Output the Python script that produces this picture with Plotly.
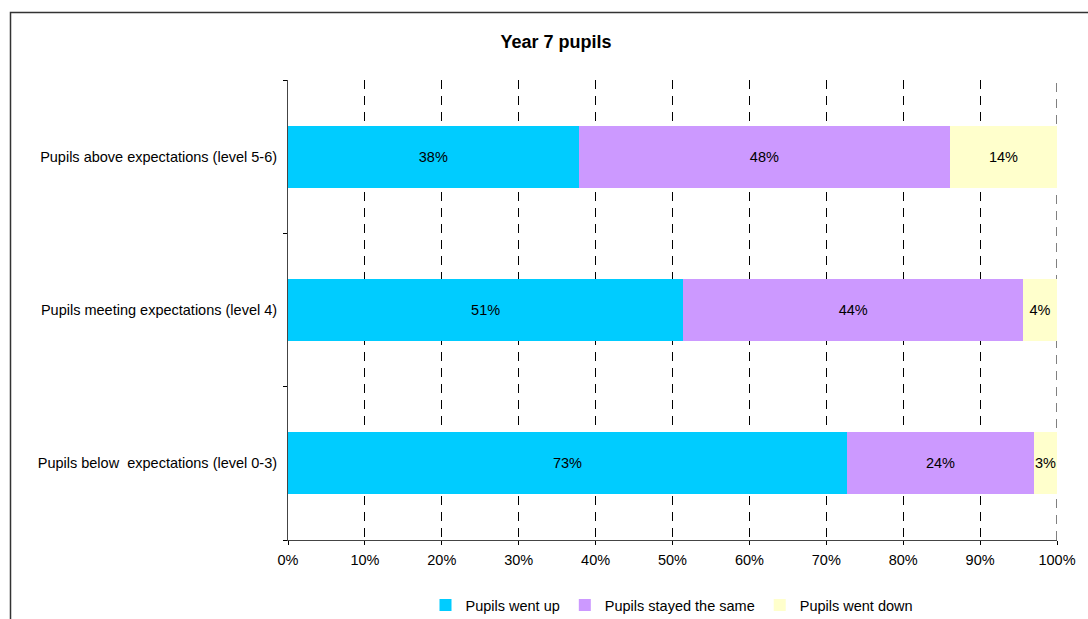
import plotly.graph_objects as go

# ---------------------------------------------------------------------------
# Data
# ---------------------------------------------------------------------------
categories = [
    "Pupils above expectations (level 5-6)",
    "Pupils meeting expectations (level 4)",
    "Pupils below  expectations (level 0-3)",
]
went_up = [37.8, 51.4, 72.7]
stayed_same = [48.3, 44.2, 24.3]
went_down = [13.9, 4.4, 3.0]

series_names = ["Pupils went up", "Pupils stayed the same", "Pupils went down"]
series_values = [went_up, stayed_same, went_down]
series_colors = ["#00CCFF", "#CC99FF", "#FFFFCC"]

x_ticks = [0, 10, 20, 30, 40, 50, 60, 70, 80, 90, 100]

W, H = 1088, 619
L, R, T, B = 288, 31, 80, 79
PW, PH = W - L - R, H - T - B

FONT = "Liberation Sans, Arial, sans-serif"
FS = 14.5


def px_x(x):
    return (x - L) / PW


def px_y(y):
    return (H - B - y) / PH


fig = go.Figure()
for name, vals, color in zip(series_names, series_values, series_colors):
    fig.add_trace(go.Bar(
        y=categories,
        x=vals,
        name=name,
        orientation="h",
        marker=dict(color=color, line=dict(width=0)),
        text=[f"{v:.0f}%" for v in vals],
        textposition="inside",
        insidetextanchor="middle",
        textangle=0,
        constraintext="none",
        textfont=dict(color="black", size=FS, family=FONT),
        cliponaxis=False,
    ))

fig.update_layout(
    width=W,
    height=H,
    barmode="stack",
    bargap=0.595,
    paper_bgcolor="white",
    plot_bgcolor="white",
    margin=dict(l=L, r=R, t=T, b=B, autoexpand=False),
    font=dict(family=FONT, size=FS, color="black"),
    title=dict(
        text="<b>Year 7 pupils</b>",
        x=556 / W, xanchor="center",
        y=1 - 42 / H, yanchor="middle",
        font=dict(size=18, family=FONT, color="black"),
    ),
    xaxis=dict(
        range=[0, 100],
        tickvals=x_ticks,
        ticktext=[f"{v}%" for v in x_ticks],
        showgrid=True,
        gridcolor="black",
        gridwidth=1,
        griddash="9px,7px",
        showline=True,
        linecolor="#444444",
        linewidth=1,
        ticks="outside",
        ticklen=4,
        tickcolor="black",
        ticklabelstandoff=3,
        zeroline=False,
        automargin=False,
        tickfont=dict(size=FS, family=FONT),
    ),
    yaxis=dict(
        categoryorder="array",
        categoryarray=categories[::-1],
        showline=True,
        linecolor="#444444",
        linewidth=1,
        ticks="outside",
        tickson="boundaries",
        ticklen=4,
        tickcolor="black",
        ticklabelstandoff=7,
        showgrid=False,
        automargin=False,
        tickfont=dict(size=FS, family=FONT),
    ),
    legend=dict(
        orientation="h",
        x=px_x(672), xanchor="center",
        y=px_y(605), yanchor="middle",
        font=dict(size=FS, family=FONT),
        itemwidth=30,
        traceorder="normal",
    ),
    shapes=[
        # outer chart border (runs off the right and bottom of the picture)
        dict(
            type="rect", xref="paper", yref="paper",
            x0=px_x(10.5), x1=px_x(W + 20),
            y0=px_y(H + 20), y1=px_y(12.5),
            line=dict(color="#333333", width=1.5),
            fillcolor="rgba(0,0,0,0)", layer="below",
        ),
        # gridline at the 100% edge, which plotly leaves out
        dict(
            type="line", xref="x", yref="paper",
            x0=x_ticks[-1], x1=x_ticks[-1], y0=0, y1=1,
            line=dict(color="black", width=1, dash="9px,7px"),
            layer="below",
        ),
    ],
)

fig.write_html(
    "out.html",
    config={"displayModeBar": False},
    post_script="document.body.style.margin='0px';",
)
